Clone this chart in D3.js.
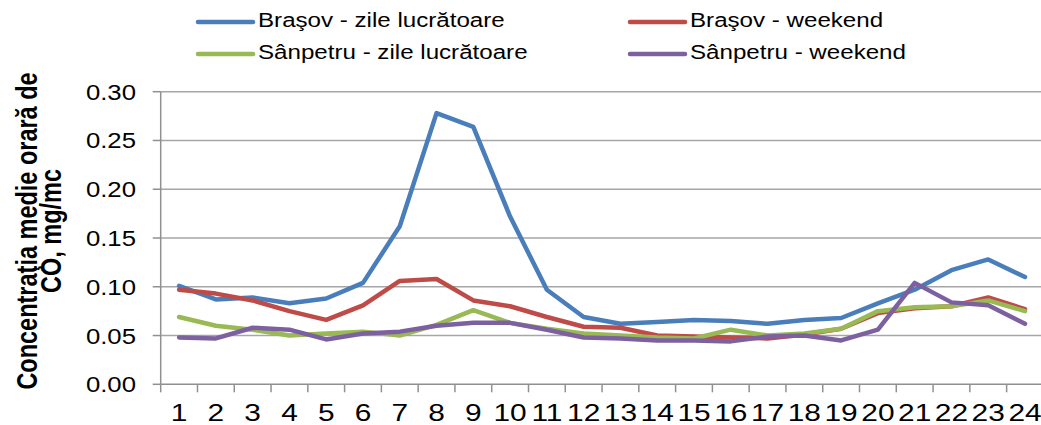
<!DOCTYPE html>
<html>
<head>
<meta charset="utf-8">
<script src="https://cdn.jsdelivr.net/npm/d3@7"></script>
<style>
  body { margin: 0; background: #fff; }
  svg { display: block; font-family: "Liberation Sans", Arial, sans-serif; }
</style>
</head>
<body>
<div id="chart"></div>
<script>

var hours = ["1","2","3","4","5","6","7","8","9","10","11","12","13","14","15","16","17","18","19","20","21","22","23","24"];
var yTicks = [0, 0.05, 0.10, 0.15, 0.20, 0.25, 0.30];

var seriesNames = ["Braşov - zile lucrătoare", "Braşov - weekend", "Sânpetru - zile lucrătoare", "Sânpetru - weekend"];
var seriesColors = ["#4A7EBB", "#BE4B48", "#98B954", "#7D60A0"];

var brasovLucru   = [0.101, 0.087, 0.089, 0.083, 0.088, 0.104, 0.162, 0.278, 0.264, 0.172, 0.097, 0.069, 0.062, 0.064, 0.066, 0.065, 0.062, 0.066, 0.068, 0.083, 0.097, 0.117, 0.128, 0.110];
var brasovWeekend = [0.097, 0.093, 0.086, 0.075, 0.066, 0.081, 0.106, 0.108, 0.086, 0.080, 0.069, 0.059, 0.058, 0.050, 0.049, 0.048, 0.047, 0.051, 0.057, 0.073, 0.078, 0.080, 0.089, 0.077];
var sanLucru      = [0.069, 0.060, 0.056, 0.050, 0.052, 0.054, 0.050, 0.061, 0.076, 0.063, 0.057, 0.052, 0.050, 0.048, 0.047, 0.056, 0.050, 0.052, 0.057, 0.075, 0.079, 0.080, 0.086, 0.075];
var sanWeekend    = [0.048, 0.047, 0.058, 0.056, 0.046, 0.052, 0.054, 0.060, 0.063, 0.063, 0.056, 0.048, 0.047, 0.045, 0.045, 0.044, 0.049, 0.050, 0.045, 0.056, 0.104, 0.084, 0.081, 0.062];

var allSeries = [brasovLucru, brasovWeekend, sanLucru, sanWeekend];

var w = 1041;
var h = 425;

// plot area (px)
var pLeft = 160.7, pRight = 1043.4, pTop = 91.7, pBottom = 384.3;

var svg = d3.select("#chart")
	.append("svg")
	.attr("width", w)
	.attr("height", h);

var x = d3.scaleBand()
	.domain(hours)
	.range([pLeft, pRight])
	.padding(0);

var xEdge = d3.scaleLinear()
	.domain([0, hours.length])
	.range([pLeft, pRight]);

var y = d3.scaleLinear()
	.domain([0, 0.30])
	.range([pBottom, pTop]);

/********************************************************************
* Grid + axes
*********************************************************************/
svg.selectAll("line.grid")
	.data(yTicks.slice(1))
	.enter()
	.append("line")
	.attr("class", "grid")
	.attr("x1", pLeft)
	.attr("x2", w)
	.attr("y1", function(d){ return y(d); })
	.attr("y2", function(d){ return y(d); })
	.attr("stroke", "#A6A6A6")
	.attr("stroke-width", 1.5);

// y axis line and ticks
svg.append("line")
	.attr("x1", pLeft).attr("x2", pLeft)
	.attr("y1", pTop).attr("y2", pBottom)
	.attr("stroke", "#909090")
	.attr("stroke-width", 1.5);

svg.selectAll("line.ytick")
	.data(yTicks)
	.enter()
	.append("line")
	.attr("class", "ytick")
	.attr("x1", pLeft - 8)
	.attr("x2", pLeft)
	.attr("y1", function(d){ return y(d); })
	.attr("y2", function(d){ return y(d); })
	.attr("stroke", "#909090")
	.attr("stroke-width", 1.5);

svg.selectAll("text.ylab")
	.data(yTicks)
	.enter()
	.append("text")
	.attr("class", "ylab")
	.attr("transform", function(d){
		return "translate(136," + (y(d) + 8) + ") scale(1.17,1)";
	})
	.attr("text-anchor", "end")
	.attr("font-size", 22)
	.attr("fill", "#000")
	.text(function(d){ return d.toFixed(2); });

// x axis line and ticks
svg.append("line")
	.attr("x1", pLeft).attr("x2", w)
	.attr("y1", pBottom).attr("y2", pBottom)
	.attr("stroke", "#909090")
	.attr("stroke-width", 1.5);

svg.selectAll("line.xtick")
	.data(d3.range(hours.length + 1))
	.enter()
	.append("line")
	.attr("class", "xtick")
	.attr("x1", function(d){ return xEdge(d); })
	.attr("x2", function(d){ return xEdge(d); })
	.attr("y1", pBottom)
	.attr("y2", pBottom + 8)
	.attr("stroke", "#909090")
	.attr("stroke-width", 1.5);

svg.selectAll("text.xlab")
	.data(hours)
	.enter()
	.append("text")
	.attr("class", "xlab")
	.attr("transform", function(d){
		return "translate(" + (x(d) + x.bandwidth() / 2) + ",421) scale(1.3,1)";
	})
	.attr("text-anchor", "middle")
	.attr("font-size", 23)
	.attr("fill", "#000")
	.text(function(d){ return d; });

// y axis title (two lines, bold, rotated)
var title = svg.append("text")
	.attr("transform", "translate(0,231) scale(1.22,1) rotate(-90)")
	.attr("text-anchor", "middle")
	.attr("font-size", 23.5)
	.attr("font-weight", "bold")
	.attr("fill", "#000");
title.append("tspan").attr("x", 0).attr("y", 30.5).text("Concentraţia medie orară de");
title.append("tspan").attr("x", 0).attr("y", 50).text("CO, mg/mc");

/********************************************************************
* Series lines
*********************************************************************/
var line = d3.line()
	.x(function(d, i){ return x(hours[i]) + x.bandwidth() / 2; })
	.y(function(d){ return y(d); });

svg.selectAll("path.series")
	.data(allSeries)
	.enter()
	.append("path")
	.attr("class", "series")
	.attr("d", line)
	.attr("fill", "none")
	.attr("stroke", function(d, i){ return seriesColors[i]; })
	.attr("stroke-width", 4.5)
	.attr("stroke-linejoin", "round")
	.attr("stroke-linecap", "round");

/********************************************************************
* Legend
*********************************************************************/
var legendPos = [[198, 22], [630, 22], [198, 54], [630, 54]];

var leg = svg.selectAll("g.legend")
	.data(seriesNames)
	.enter()
	.append("g")
	.attr("class", "legend")
	.attr("transform", function(d, i){
		return "translate(" + legendPos[i][0] + "," + legendPos[i][1] + ")";
	});

leg.append("line")
	.attr("x1", 0).attr("x2", 55)
	.attr("y1", 0).attr("y2", 0)
	.attr("stroke", function(d, i){ return seriesColors[i]; })
	.attr("stroke-width", 4.5)
	.attr("stroke-linecap", "round");

leg.append("text")
	.attr("transform", "translate(60,5) scale(1.15,1)")
	.attr("font-size", 21)
	.attr("fill", "#000")
	.text(function(d){ return d; });

</script>
</body>
</html>
